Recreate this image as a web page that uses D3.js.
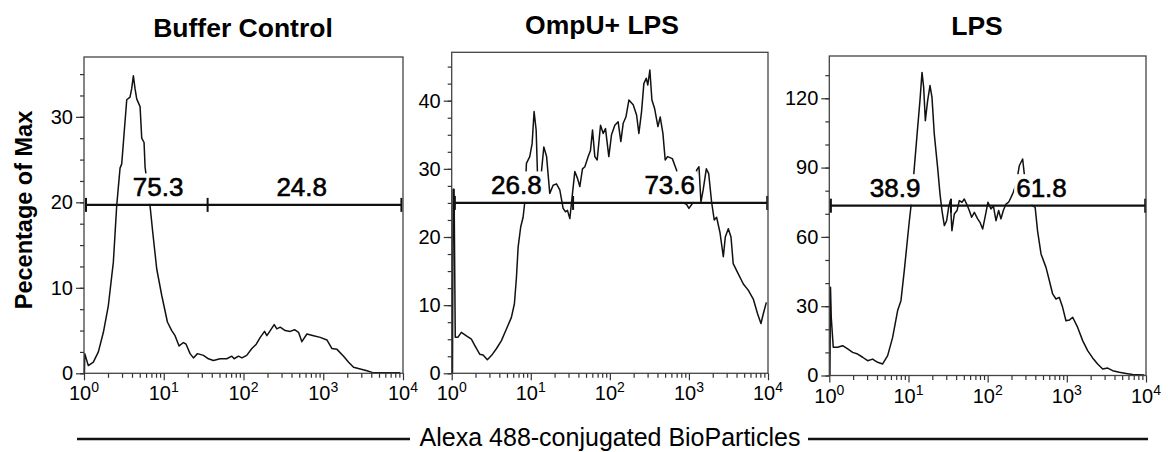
<!DOCTYPE html>
<html>
<head>
<meta charset="utf-8">
<script src="https://cdn.jsdelivr.net/npm/d3@7"></script>
<style>
body { margin: 0; background: #fff; }
text { font-family: "Liberation Sans", Arial, Helvetica, sans-serif; fill: #000; }
</style>
</head>
<body>
<div id="chart-area"></div>
<script>
const chartSize = { width: 1168, height: 452 };

// panel titles and axis texts
const titles = ["Buffer Control", "OmpU+ LPS", "LPS"];
const yLabel = "Pecentage of Max";
const xLabel = "Alexa 488-conjugated BioParticles";

// y axes
const yMax = [37.0, 47.1, 138.3];
const yMajor = [[0, 10, 20, 30], [0, 10, 20, 30, 40], [0, 30, 60, 90, 120]];
const yMinorStep = [2.5, 2.5, 10];

// x axis: decades (log10 of intensity)
const xDecades = [0, 1, 2, 3, 4];

// gates: level (% of max), start / divider / end (log10 intensity), percentages
const gateLevel = [19.7, 25.0, 73.5];
const gateExp = [[0.025, 1.55, 3.98], [0.04, 1.535, 3.99], [0.02, 1.537, 3.99]];
const gateLabels = [["75.3", "24.8"], ["26.8", "73.6"], ["38.9", "61.8"]];
const gateLabelExp = [[0.93, 2.73], [0.817, 2.757], [0.832, 2.68]];

// histograms: [log10 intensity, % of max]
const bufferCurve = [[0.005, 0], [0.01, 2.3], [0.054, 0.9], [0.117, 1.3], [0.18, 2.5], [0.243, 4.8], [0.305, 7.9],
  [0.368, 13], [0.41, 19.6], [0.452, 24], [0.473, 24.5], [0.494, 27], [0.536, 32], [0.577, 32.3], [0.598, 33.3],
  [0.619, 34.8], [0.64, 33.3], [0.661, 32.1], [0.703, 31.2], [0.724, 27.5], [0.753, 27], [0.766, 24.1],
  [0.828, 19.6], [0.862, 16.5], [0.912, 12.2], [0.975, 9.1], [1.046, 6], [1.1, 5], [1.142, 4.4], [1.192, 3.2],
  [1.247, 3.6], [1.28, 3.4], [1.33, 2.3], [1.372, 1.8], [1.423, 2.3], [1.498, 2.1], [1.56, 1.7], [1.623, 1.5],
  [1.707, 1.7], [1.79, 1.7], [1.854, 2.0], [1.883, 1.7], [1.937, 2.0], [1.98, 1.8], [2.04, 2.1], [2.105, 2.9],
  [2.16, 3.4], [2.21, 4.2], [2.264, 4.9], [2.293, 4.4], [2.335, 5.0], [2.385, 5.7], [2.418, 5.2], [2.46, 5.4],
  [2.523, 5.0], [2.586, 4.9], [2.64, 5.1], [2.69, 4.8], [2.732, 3.7], [2.795, 4.6], [2.879, 4.4], [2.962, 4.2],
  [3.046, 3.9], [3.109, 2.9], [3.172, 2.8], [3.255, 2.0], [3.318, 1.3], [3.38, 0.7], [3.464, 0.5], [3.548, 0.3],
  [3.63, 0.05], [3.966, 0.05]];

const ompuCurve = [[0.01, 0], [0.018, 27], [0.03, 27], [0.045, 5.3], [0.08, 5.3], [0.122, 6.0], [0.186, 5.5],
  [0.249, 5.0], [0.291, 4.1], [0.354, 2.8], [0.397, 2.7], [0.451, 2.0], [0.502, 2.6], [0.565, 3.6], [0.629, 4.8],
  [0.692, 6.5], [0.755, 8.2], [0.793, 10.2], [0.819, 14.1], [0.84, 18.5], [0.873, 21.5], [0.903, 22.9],
  [0.924, 25.1], [0.945, 30.8], [0.987, 31.8], [1.017, 33.7], [1.042, 38.4], [1.068, 35.7], [1.084, 29.6],
  [1.11, 26], [1.135, 29.6], [1.165, 33.2], [1.2, 31.8], [1.24, 26.4], [1.283, 27.6], [1.325, 27.8],
  [1.367, 26.9], [1.409, 24.2], [1.439, 23.7], [1.464, 23.9], [1.494, 22.7], [1.523, 25.9], [1.557, 29.6],
  [1.591, 28.6], [1.62, 27.4], [1.654, 30.0], [1.684, 30.3], [1.726, 31.8], [1.755, 32.7], [1.781, 35.7],
  [1.81, 31.8], [1.84, 31.3], [1.882, 36.4], [1.916, 35.2], [1.945, 35.9], [1.987, 31.8], [2.021, 35.0],
  [2.063, 36.4], [2.105, 36.9], [2.139, 34.0], [2.169, 36.7], [2.203, 37.6], [2.241, 40.1], [2.295, 39.4],
  [2.338, 37.9], [2.367, 35.2], [2.401, 38.4], [2.43, 42.5], [2.46, 43.3], [2.48, 42.3], [2.506, 44.5],
  [2.532, 40.1], [2.565, 38.9], [2.608, 36.2], [2.637, 37.6], [2.671, 35.2], [2.7, 31.3], [2.73, 31.8],
  [2.79, 31.5], [2.844, 29.8], [2.88, 26], [2.907, 25.1], [2.97, 24.8], [3.0, 24.2], [3.055, 25.1], [3.08, 27],
  [3.097, 29.8], [3.127, 30.3], [3.152, 25.1], [3.18, 26.9], [3.22, 30.0], [3.25, 29.3], [3.287, 25.1],
  [3.32, 22.5], [3.35, 22.9], [3.392, 20.7], [3.435, 17.1], [3.46, 20.0], [3.498, 21.2], [3.532, 20.0],
  [3.56, 16.1], [3.624, 14.6], [3.688, 13.1], [3.75, 12.2], [3.814, 10.9], [3.869, 8.7], [3.911, 7.3],
  [3.94, 8.7], [3.979, 10.4]];

const lpsCurve = [[0.008, 0], [0.015, 38.2], [0.025, 25], [0.05, 12.2], [0.105, 12.2], [0.168, 12.9], [0.232, 11.5],
  [0.295, 10.0], [0.358, 9.3], [0.421, 7.9], [0.484, 6.4], [0.547, 7.1], [0.61, 5.7], [0.674, 5.0], [0.737, 8.6],
  [0.8, 16.5], [0.863, 28.1], [0.905, 32.4], [0.947, 45.4], [0.977, 55.5], [1.011, 67.0], [1.04, 75.7],
  [1.074, 90.1], [1.116, 107.4], [1.145, 119], [1.171, 131.2], [1.192, 124.7], [1.213, 110.3], [1.242, 119],
  [1.272, 125.5], [1.297, 120.4], [1.326, 104.5], [1.368, 90.1], [1.398, 78.6], [1.423, 71.4], [1.453, 64.9],
  [1.482, 67.0], [1.507, 72.8], [1.528, 75.7], [1.549, 62.7], [1.579, 69.9], [1.613, 71.4], [1.642, 75.7],
  [1.676, 75.0], [1.705, 76.4], [1.735, 74.2], [1.768, 71.4], [1.798, 68.5], [1.832, 70.6], [1.874, 67.8],
  [1.903, 66.3], [1.937, 63.4], [1.971, 69.2], [2.004, 75.0], [2.042, 72.1], [2.072, 73.5], [2.105, 67.0],
  [2.139, 71.4], [2.168, 67.8], [2.198, 71.4], [2.232, 74.2], [2.265, 75.0], [2.295, 77.1], [2.324, 79.3],
  [2.35, 82], [2.379, 86.5], [2.4, 90.8], [2.442, 93.7], [2.463, 87.2], [2.49, 80], [2.526, 75.7], [2.568, 73.5],
  [2.6, 72.8], [2.63, 62.7], [2.674, 52.6], [2.737, 46.8], [2.779, 41.1], [2.821, 35.3], [2.863, 33.1],
  [2.905, 33.8], [2.947, 29.5], [2.989, 23.7], [3.032, 24.0], [3.074, 25.2], [3.137, 20.8], [3.2, 15.1],
  [3.263, 10.8], [3.326, 7.6], [3.389, 5.0], [3.453, 2.8], [3.516, 3.2], [3.579, 2.1], [3.663, 1.4],
  [3.747, 0.9], [3.832, 0.4], [3.979, 0.2]];

const curves = [bufferCurve, ompuCurve, lpsCurve];

// layout
const panels = [
  { left: 84, right: 403, top: 57, bottom: 373.3, titleX: 243, titleY: 37 },
  { left: 451.7, right: 768, top: 52.3, bottom: 373.3, titleX: 602, titleY: 34 },
  { left: 829.3, right: 1146, top: 56, bottom: 375.5, titleX: 977, titleY: 35 },
];

const pow10 = e => Math.pow(10, e);

const styleAxis = function (g) {
  g.select(".domain").remove();
  g.selectAll(".tick line").attr("stroke", "#333").attr("stroke-width", 1.2);
}

const drawPanel = function (svg, i) {
  const p = panels[i];
  const g = svg.append("g").attr("class", "panel");

  const x = d3.scaleLog().domain([1, 1e4]).range([p.left, p.right]);
  const y = d3.scaleLinear().domain([0, yMax[i]]).range([p.bottom, p.top]);

  g.append("text")
    .text(titles[i])
    .attr("x", p.titleX)
    .attr("y", p.titleY)
    .attr("text-anchor", "middle")
    .attr("font-size", "26.5px")
    .attr("font-weight", "bold");

  // histogram
  const line = d3.line()
    .x(d => x(pow10(d[0])))
    .y(d => y(d[1]));

  g.append("path")
    .attr("d", line(curves[i]))
    .attr("fill", "none")
    .attr("stroke", "#111")
    .attr("stroke-width", 1.5)
    .attr("stroke-linejoin", "round");

  // gate labels with white boxes that hide the curve
  const gy = y(gateLevel[i]);
  gateLabels[i].forEach((lab, j) => {
    const t = g.append("text")
      .text(lab)
      .attr("x", x(pow10(gateLabelExp[i][j])))
      .attr("y", gy - 8.5)
      .attr("text-anchor", "middle")
      .attr("font-size", "26px")
      .attr("stroke", "#000")
      .attr("stroke-width", 0.6);
    const bb = t.node().getBBox();
    g.insert("rect", "text.gl")
      .attr("x", bb.x - 2)
      .attr("y", bb.y + 1)
      .attr("width", bb.width + 4)
      .attr("height", gy - bb.y - 2)
      .attr("fill", "#fff");
    t.attr("class", "gl").raise();
  });

  // gate line
  const ge = gateExp[i];
  g.append("line")
    .attr("x1", x(pow10(ge[0])))
    .attr("x2", x(pow10(ge[2])))
    .attr("y1", gy).attr("y2", gy)
    .attr("stroke", "#111")
    .attr("stroke-width", 2.2);
  g.selectAll(".gtick")
    .data(ge)
    .enter()
    .append("line")
    .attr("class", "gtick")
    .attr("x1", d => x(pow10(d)))
    .attr("x2", d => x(pow10(d)))
    .attr("y1", gy - 7)
    .attr("y2", gy + 7)
    .attr("stroke", "#111")
    .attr("stroke-width", 2);
  g.selectAll("text.gl").raise();

  // frame
  g.append("rect")
    .attr("x", p.left)
    .attr("y", p.top)
    .attr("width", p.right - p.left)
    .attr("height", p.bottom - p.top)
    .attr("fill", "none")
    .attr("stroke", "#444")
    .attr("stroke-width", 1.3);

  // y axis
  const yMinor = d3.range(0, yMax[i], yMinorStep[i]);
  g.append("g")
    .attr("transform", `translate(${p.left}, 0)`)
    .call(d3.axisLeft(y).tickValues(yMinor).tickSize(4).tickFormat(""))
    .call(styleAxis);
  g.append("g")
    .attr("transform", `translate(${p.left}, 0)`)
    .call(d3.axisLeft(y).tickValues(yMajor[i]).tickSize(8).tickPadding(3))
    .call(styleAxis)
    .selectAll("text")
    .attr("font-size", "20px")
    .attr("font-family", "Liberation Sans, Arial, sans-serif")
    .attr("fill", "#000");

  // x axis
  const xMinor = [];
  xDecades.slice(0, -1).forEach(e => {
    for (let m = 2; m <= 9; m++) xMinor.push(m * pow10(e));
  });
  g.append("g")
    .attr("transform", `translate(0, ${p.bottom})`)
    .call(d3.axisBottom(x).tickValues(xMinor).tickSize(4.5).tickFormat(""))
    .call(styleAxis);
  g.append("g")
    .attr("transform", `translate(0, ${p.bottom})`)
    .call(d3.axisBottom(x).tickValues(xDecades.map(pow10)).tickSize(7).tickFormat(""))
    .call(styleAxis);

  xDecades.forEach(e => {
    const t = g.append("text")
      .attr("x", x(pow10(e)))
      .attr("y", p.bottom + 27)
      .attr("text-anchor", "middle")
      .attr("font-size", "20px");
    t.append("tspan").text("10");
    t.append("tspan").text(e).attr("dy", -8).attr("font-size", "14px");
  });
}

const main = () => {
  const svg = d3.select("#chart-area")
    .append("svg")
    .attr("width", chartSize.width)
    .attr("height", chartSize.height)
    .style("display", "block");

  svg.append("rect")
    .attr("width", chartSize.width)
    .attr("height", chartSize.height)
    .attr("fill", "#fff");

  panels.forEach((p, i) => drawPanel(svg, i));

  svg.append("text")
    .text(yLabel)
    .attr("transform", "translate(32, 210) rotate(-90)")
    .attr("text-anchor", "middle")
    .attr("font-size", "23.5px")
    .attr("font-weight", "bold");

  svg.append("text")
    .text(xLabel)
    .attr("x", 610)
    .attr("y", 446)
    .attr("text-anchor", "middle")
    .attr("font-size", "25px");

  [[77, 410], [808, 1148]].forEach(s => {
    svg.append("line")
      .attr("x1", s[0]).attr("x2", s[1])
      .attr("y1", 439).attr("y2", 439)
      .attr("stroke", "#111")
      .attr("stroke-width", 2.6);
  });
}

main();
</script>
</body>
</html>
